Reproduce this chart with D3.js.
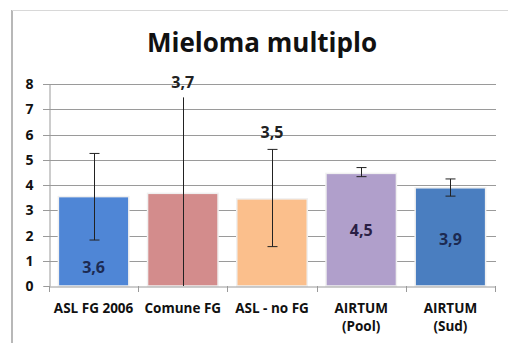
<!DOCTYPE html>
<html><head><meta charset="utf-8">
<script src="https://cdn.jsdelivr.net/npm/d3@7"></script>
<style>body{margin:0;background:#fff}svg{display:block}</style>
</head><body>
<script>
const categories = [["ASL FG 2006"],["Comune FG"],["ASL - no FG"],["AIRTUM","(Pool)"],["AIRTUM","(Sud)"]];
const values = [3.54, 3.67, 3.45, 4.46, 3.89];
const labels = ["3,6","3,7","3,5","4,5","3,9"];
const errLow = [1.82, 0, 1.56, 4.33, 3.56];
const errHigh = [5.25, 7.47, 5.41, 4.69, 4.24];
const colors = ["#4f86d6","#d38c8c","#fbbf8c","#b09fcb","#4a7ec0"];
const yTicks = [0,1,2,3,4,5,6,7,8];
const title = "Mieloma multiplo";

const W=508,H=343;
const svg=d3.select("body").append("svg").attr("width",W).attr("height",H);
const font="'Open Sans', sans-serif";
// frame
svg.append("line").attr("x1",12).attr("x2",12).attr("y1",10).attr("y2",H).attr("stroke","#b8b8b8").attr("stroke-width",2);
svg.append("line").attr("x1",12).attr("x2",W).attr("y1",10.5).attr("y2",10.5).attr("stroke","#d8d8d8").attr("stroke-width",1);

const x=d3.scaleBand().domain(d3.range(categories.length)).range([49,495]).paddingInner(0.21).paddingOuter(0.105);
const y=d3.scaleLinear().domain([0,8]).range([286,84]);

svg.append("text").attr("x",262).attr("y",52).attr("text-anchor","middle")
  .attr("font-family",font).attr("font-weight","bold").attr("font-size",26).attr("fill","#111").text(title);

// gridlines
svg.append("g").selectAll("line").data(yTicks.filter(d=>d>0)).join("line")
  .attr("x1",43).attr("x2",496).attr("y1",d=>Math.round(y(d))+0.5).attr("y2",d=>Math.round(y(d))+0.5)
  .attr("stroke","#9a9a9a").attr("stroke-width",1);

// y axis
const ya=svg.append("g").attr("transform","translate(49.5,0)")
  .call(d3.axisLeft(y).tickValues(yTicks).tickSize(6).tickPadding(10).tickFormat(d3.format("d")));
ya.select(".domain").attr("stroke","#9a9a9a");
ya.selectAll(".tick line").attr("stroke","#9a9a9a");
ya.selectAll(".tick text").attr("font-family",font).attr("font-weight","bold").attr("font-size",14).attr("fill","#111");
ya.selectAll(".tick").attr("transform",d=>`translate(0,${Math.round(y(d))+0.5})`);

// bars
svg.append("g").selectAll("rect").data(values).join("rect")
  .attr("x",(d,i)=>x(i)).attr("width",x.bandwidth())
  .attr("y",d=>y(d)).attr("height",d=>y(0)-y(d))
  .attr("fill",(d,i)=>colors[i]).attr("stroke","#f0f0f0").attr("stroke-width",1.5);

// x axis
const xa=svg.append("g").attr("transform","translate(0,286.5)")
  .call(d3.axisBottom(x).tickSize(0).tickFormat(""));
xa.select(".domain").attr("stroke","#9a9a9a");
const step=x.step();
svg.append("g").selectAll("line").data(d3.range(categories.length+1)).join("line")
  .attr("x1",i=>Math.round(49+i*step)+0.5).attr("x2",i=>Math.round(49+i*step)+0.5)
  .attr("y1",286).attr("y2",292).attr("stroke","#9a9a9a");

// category labels
const cl=svg.append("g").selectAll("text").data(categories).join("text")
  .attr("x",(d,i)=>x(i)+x.bandwidth()/2).attr("y",313)
  .attr("text-anchor","middle").attr("font-family",font).attr("font-weight","bold").attr("font-size",13.5).attr("fill","#111");
cl.selectAll("tspan").data(d=>d).join("tspan")
  .attr("x",function(){return this.parentNode.getAttribute("x");})
  .attr("dy",(d,j)=>j?18:0).text(d=>d);

// error bars
const eb=svg.append("g").attr("stroke","#222").attr("stroke-width",1);
values.forEach((v,i)=>{
  const cx=Math.round(x(i)+x.bandwidth()/2)+0.5;
  eb.append("line").attr("x1",cx).attr("x2",cx).attr("y1",y(errHigh[i])).attr("y2",y(errLow[i]));
  if(errLow[i]>0){
    [errHigh[i],errLow[i]].forEach(e=>eb.append("line").attr("x1",cx-5).attr("x2",cx+5).attr("y1",y(e)).attr("y2",y(e)));
  }
});

// value labels (baseline positions in value units)
const lblPos=[0.51, 7.84, 5.86, 1.98, 1.62];
const lblColor=["#1c2a52","#222","#222","#2a1f45","#1c2a52"];
svg.append("g").selectAll("text").data(labels).join("text")
  .attr("x",(d,i)=>x(i)+x.bandwidth()/2).attr("y",(d,i)=>y(lblPos[i]))
  .attr("text-anchor","middle")
  .attr("font-family",font).attr("font-weight","bold").attr("font-size",16)
  .attr("fill",(d,i)=>lblColor[i]).text(d=>d);
</script>
</body></html>
